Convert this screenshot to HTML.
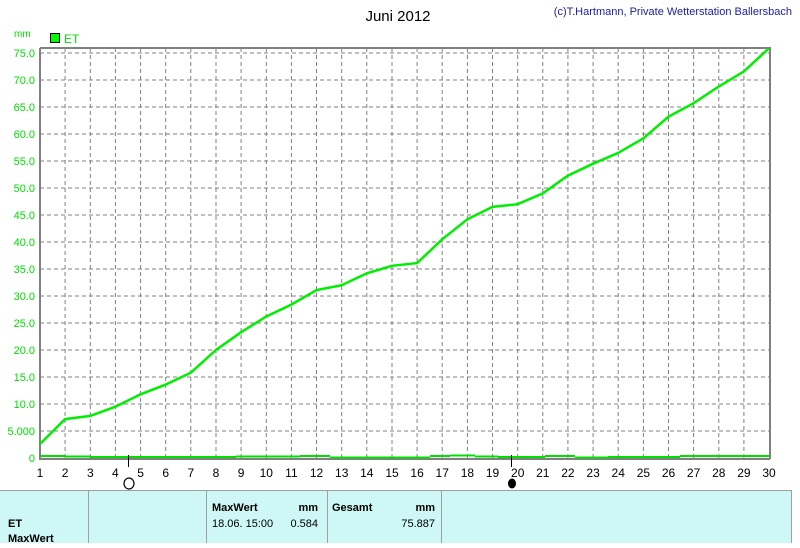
<!DOCTYPE html>
<html><head><meta charset="utf-8"><style>
body{margin:0;background:#fff;width:800px;height:543px;overflow:hidden;font-family:"Liberation Sans",sans-serif}
</style></head><body>
<svg width="800" height="543" xmlns="http://www.w3.org/2000/svg" font-family="Liberation Sans, sans-serif">
<rect width="800" height="543" fill="#fff"/>
<text x="398" y="21" font-size="15" text-anchor="middle" fill="#000">Juni 2012</text>
<text x="792" y="15" font-size="11" text-anchor="end" fill="#2020a0">(c)T.Hartmann, Private Wetterstation Ballersbach</text>
<text x="14" y="37" font-size="10" fill="#00e000">mm</text>
<rect x="50.5" y="33.5" width="9" height="9" fill="#00ff00" stroke="#000"/>
<text x="64" y="43" font-size="12" fill="#00e000">ET</text>
<g stroke="#808080" stroke-dasharray="4,3" stroke-width="1">
<path id="vg" d="M65.1 48V458M90.3 48V458M115.4 48V458M140.6 48V458M165.7 48V458M190.8 48V458M216 48V458M241.1 48V458M266.3 48V458M291.4 48V458M316.5 48V458M341.7 48V458M366.8 48V458M392 48V458M417.1 48V458M442.2 48V458M467.4 48V458M492.5 48V458M517.7 48V458M542.8 48V458M567.9 48V458M593.1 48V458M618.2 48V458M643.4 48V458M668.5 48V458M693.6 48V458M718.8 48V458M743.9 48V458"/>
<path d="M40 53H769M40 80H769M40 107H769M40 134H769M40 161H769M40 188H769M40 215H769M40 242H769M40 269H769M40 296H769M40 323H769M40 350H769M40 377H769M40 404H769M40 431H769"/>
</g>
<g font-size="11" fill="#00e000" text-anchor="end">
<text x="35" y="57">75.0</text><text x="35" y="84">70.0</text><text x="35" y="111">65.0</text><text x="35" y="138">60.0</text><text x="35" y="165">55.0</text><text x="35" y="192">50.0</text><text x="35" y="219">45.0</text><text x="35" y="246">40.0</text><text x="35" y="273">35.0</text><text x="35" y="300">30.0</text><text x="35" y="327">25.0</text><text x="35" y="354">20.0</text><text x="35" y="381">15.0</text><text x="35" y="408">10.0</text><text x="35" y="435">5.000</text><text x="35" y="462">0</text>
</g>
<path d="M40 48H770V459" fill="none" stroke="#808080" stroke-width="2"/>
<path d="M40 48V460M39 459H770" fill="none" stroke="#808080" stroke-width="2"/>
<g stroke="#00e000" stroke-width="2" fill="none">
<path d="M40 456H65M65 456.5H90M90 457H236M236 456.5H300M300 456H330M330 457.5H430M430 456H450M450 455.5H475M475 456.5H498M498 457H545M545 456H575M575 457.5H608M608 457H680M680 456H769"/>
</g>
<polyline fill="none" stroke="#00ee00" stroke-width="2.5" points="40,444 65.1,419.1 90.3,415.9 115.4,406.7 140.6,394.3 165.7,384.6 190.8,372.7 216,350 241.1,332.2 266.3,316.5 291.4,304.6 316.5,290.1 341.7,285.2 366.8,273.3 392,265.8 417.1,263.1 442.2,239.3 467.4,219.3 492.5,206.9 517.7,204.2 542.8,193.4 567.9,175.6 593.1,163.7 618.2,152.9 643.4,138.3 668.5,116.7 693.6,103.2 718.8,86.5 743.9,71.4 769,48.2"/>
<g font-size="12" fill="#000" text-anchor="middle">
<text x="40" y="477">1</text><text x="65.1" y="477">2</text><text x="90.3" y="477">3</text><text x="115.4" y="477">4</text><text x="140.6" y="477">5</text><text x="165.7" y="477">6</text><text x="190.8" y="477">7</text><text x="216" y="477">8</text><text x="241.1" y="477">9</text><text x="266.3" y="477">10</text><text x="291.4" y="477">11</text><text x="316.5" y="477">12</text><text x="341.7" y="477">13</text><text x="366.8" y="477">14</text><text x="392" y="477">15</text><text x="417.1" y="477">16</text><text x="442.2" y="477">17</text><text x="467.4" y="477">18</text><text x="492.5" y="477">19</text><text x="517.7" y="477">20</text><text x="542.8" y="477">21</text><text x="567.9" y="477">22</text><text x="593.1" y="477">23</text><text x="618.2" y="477">24</text><text x="643.4" y="477">25</text><text x="668.5" y="477">26</text><text x="693.6" y="477">27</text><text x="718.8" y="477">28</text><text x="743.9" y="477">29</text><text x="769" y="477">30</text>
</g>
<path d="M128.5 455V467M511.5 455V467" stroke="#000"/>
<ellipse cx="129" cy="483.5" rx="5" ry="5.5" fill="#fff" stroke="#000" stroke-width="1.2"/>
<ellipse cx="512" cy="483.5" rx="4" ry="5" fill="#000"/>
<rect x="0" y="490" width="792" height="53" fill="#cdf8f6"/>
<path d="M0 490.5H792M791.5 490V543M88.5 490V543M206.5 490V543M327.5 490V543M441.5 490V543" stroke="#a0a0a0"/>
<g font-size="11" fill="#000">
<text x="8" y="527" font-weight="bold">ET</text>
<text x="8" y="542" font-weight="bold">MaxWert</text>
<text x="212" y="511" font-weight="bold">MaxWert</text>
<text x="318" y="511" font-weight="bold" text-anchor="end">mm</text>
<text x="212" y="527">18.06.  15:00</text>
<text x="318" y="527" text-anchor="end">0.584</text>
<text x="332" y="511" font-weight="bold">Gesamt</text>
<text x="435" y="511" font-weight="bold" text-anchor="end">mm</text>
<text x="435" y="527" text-anchor="end">75.887</text>
</g>
</svg>
</body></html>
